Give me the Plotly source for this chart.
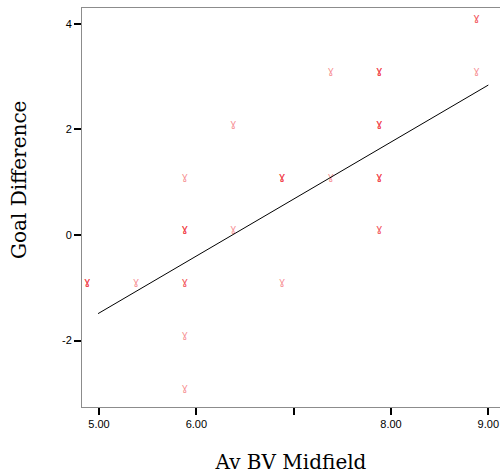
import plotly.graph_objects as go

# scatter data (Av BV Midfield vs Goal Difference); repeated pairs = overlapping points
bv_mid = [4.88, 4.88, 4.88, 5.38, 5.88, 5.88, 5.88, 5.88, 5.88, 5.88, 5.88, 5.88,
          6.38, 6.38, 6.88, 6.88, 6.88, 6.88, 7.38, 7.38,
          7.88, 7.88, 7.88, 7.88, 7.88, 7.88, 7.88, 7.88, 7.88, 7.88, 7.88,
          8.88, 8.88, 8.88]
goal_diff = [-0.9, -0.9, -0.9, -0.9, 1.1, 0.1, 0.1, 0.1, -0.9, -0.9, -1.9, -2.9,
             2.1, 0.1, 1.1, 1.1, 1.1, -0.9, 3.1, 1.1,
             3.1, 3.1, 3.1, 2.1, 2.1, 2.1, 1.1, 1.1, 1.1, 0.1, 0.1,
             4.1, 4.1, 3.1]

# linear fit line
fit_slope = 1.08
fit_intercept = -6.88
fit_x = [4.99, 9.0]
fit_y = [fit_slope * v + fit_intercept for v in fit_x]

x_tickvals = [5, 6, 7, 8, 9]
x_ticktext = ["5.00", "6.00", "", "8.00", "9.00"]
y_tickvals = [-2, 0, 2, 4]
y_ticktext = ["-2", "0", "2", "4"]

fig = go.Figure()
fig.add_trace(go.Scatter(
    x=bv_mid, y=goal_diff, mode="text", text=["ɣ"] * len(bv_mid),
    textfont=dict(family="DejaVu Sans", size=11, color="rgba(240,40,50,0.5)"),
    textposition="middle center", hoverinfo="skip", showlegend=False))
fig.add_trace(go.Scatter(
    x=fit_x, y=fit_y, mode="lines", line=dict(color="black", width=1),
    showlegend=False, hoverinfo="skip"))

fig.update_layout(
    width=500, height=474,
    margin=dict(l=82, r=0, t=8, b=67),
    paper_bgcolor="white", plot_bgcolor="white",
    xaxis=dict(range=[4.825, 9.12], tickvals=x_tickvals, ticktext=x_ticktext,
               ticks="outside", ticklen=7, tickwidth=2, tickcolor="black",
               showline=True, linecolor="#8c8c8c", linewidth=1, mirror=True,
               showgrid=False, zeroline=False, automargin=False,
               tickfont=dict(family="Liberation Sans", size=11, color="black"),
               title=dict(text="Av BV Midfield", standoff=26,
                          font=dict(family="DejaVu Serif", size=20, color="black"))),
    yaxis=dict(range=[-3.26, 4.30], tickvals=y_tickvals, ticktext=y_ticktext,
               ticks="outside", ticklen=7, tickwidth=2, tickcolor="black",
               showline=True, linecolor="#8c8c8c", linewidth=1, mirror=True,
               showgrid=False, zeroline=False, automargin=False,
               tickfont=dict(family="Liberation Sans", size=11, color="black")),
    annotations=[dict(text="Goal Difference", textangle=-90, showarrow=False,
                      xref="paper", yref="paper", x=-0.151, y=0.571,
                      xanchor="center", yanchor="middle",
                      font=dict(family="DejaVu Serif", size=20, color="black"))],
)
fig.write_html("out.html", config={"displayModeBar": False},
               post_script="document.body.style.margin='0';document.body.style.overflow='hidden';")
